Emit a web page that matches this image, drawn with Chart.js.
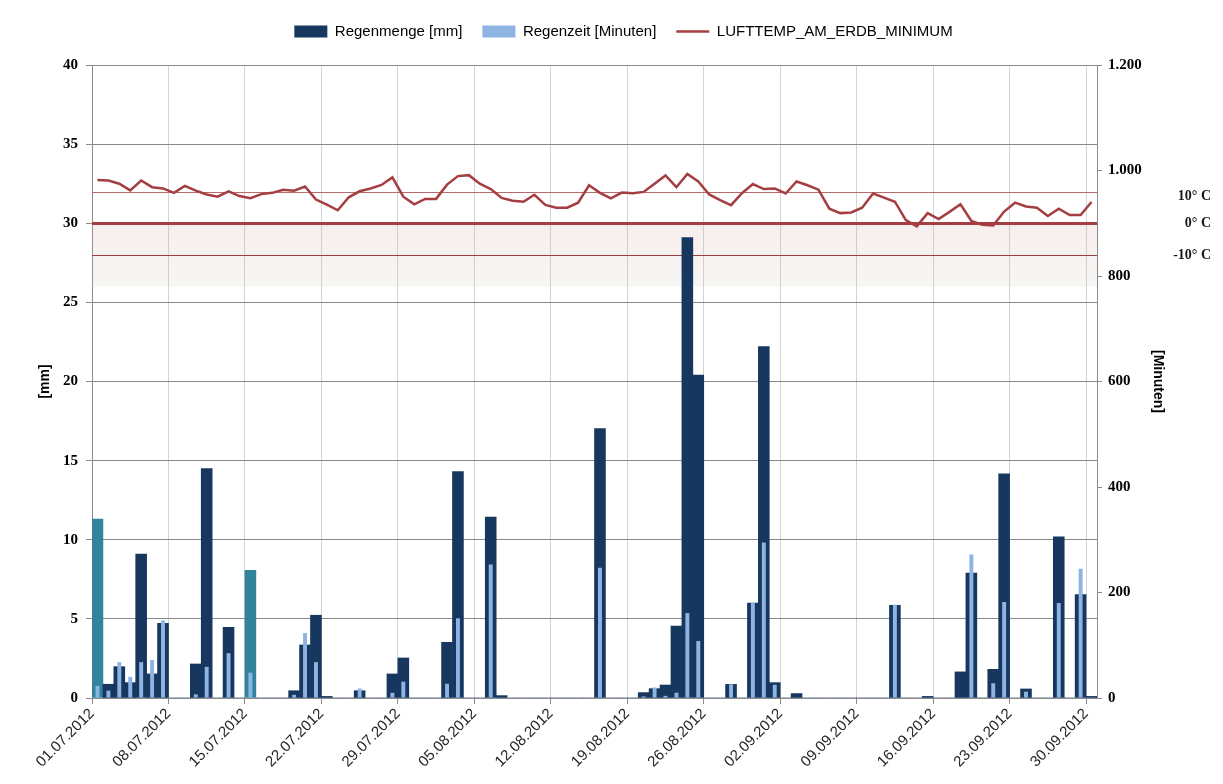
<!DOCTYPE html>
<html>
<head>
<meta charset="utf-8">
<title>Regen und Lufttemperatur Juli - September 2012</title>
<script src="https://cdn.jsdelivr.net/npm/chart.js@4.4.0/dist/chart.umd.min.js"></script>
<style>
  html, body { margin: 0; padding: 0; background: #fff; }
  #wrap { width: 1223px; height: 784px; }
</style>
</head>
<body>
<div id="wrap"><canvas id="chart" width="1223" height="784"></canvas></div>
<script>
// ===========================
// Daten
// ===========================
const days = [
  "01.07.2012", "02.07.2012", "03.07.2012", "04.07.2012", "05.07.2012", "06.07.2012", "07.07.2012",
  "08.07.2012", "09.07.2012", "10.07.2012", "11.07.2012", "12.07.2012", "13.07.2012", "14.07.2012",
  "15.07.2012", "16.07.2012", "17.07.2012", "18.07.2012", "19.07.2012", "20.07.2012", "21.07.2012",
  "22.07.2012", "23.07.2012", "24.07.2012", "25.07.2012", "26.07.2012", "27.07.2012", "28.07.2012",
  "29.07.2012", "30.07.2012", "31.07.2012", "01.08.2012", "02.08.2012", "03.08.2012", "04.08.2012",
  "05.08.2012", "06.08.2012", "07.08.2012", "08.08.2012", "09.08.2012", "10.08.2012", "11.08.2012",
  "12.08.2012", "13.08.2012", "14.08.2012", "15.08.2012", "16.08.2012", "17.08.2012", "18.08.2012",
  "19.08.2012", "20.08.2012", "21.08.2012", "22.08.2012", "23.08.2012", "24.08.2012", "25.08.2012",
  "26.08.2012", "27.08.2012", "28.08.2012", "29.08.2012", "30.08.2012", "31.08.2012", "01.09.2012",
  "02.09.2012", "03.09.2012", "04.09.2012", "05.09.2012", "06.09.2012", "07.09.2012", "08.09.2012",
  "09.09.2012", "10.09.2012", "11.09.2012", "12.09.2012", "13.09.2012", "14.09.2012", "15.09.2012",
  "16.09.2012", "17.09.2012", "18.09.2012", "19.09.2012", "20.09.2012", "21.09.2012", "22.09.2012",
  "23.09.2012", "24.09.2012", "25.09.2012", "26.09.2012", "27.09.2012", "28.09.2012", "29.09.2012",
  "30.09.2012"
];

// beschriftete Tage auf der x-Achse
const tickDates = [
  "01.07.2012", "08.07.2012", "15.07.2012", "22.07.2012", "29.07.2012", "05.08.2012", "12.08.2012",
  "19.08.2012", "26.08.2012", "02.09.2012", "09.09.2012", "16.09.2012", "23.09.2012", "30.09.2012"
];

// Regenmenge [mm]
const regenmenge = [
  11.3, 0.87, 1.98, 0.97, 9.1, 1.52, 4.72,
  0, 0, 2.15, 14.5, 0, 4.47, 0,
  8.06, 0, 0, 0, 0.46, 3.35, 5.23,
  0.1, 0, 0, 0.46, 0, 0, 1.52,
  2.53, 0, 0, 0, 3.52, 14.3, 0,
  0, 11.43, 0.15, 0, 0, 0, 0,
  0, 0, 0, 0, 17.03, 0, 0,
  0, 0.34, 0.59, 0.82, 4.54, 29.1, 20.4,
  0, 0, 0.86, 0, 6.0, 22.2, 0.97,
  0, 0.28, 0, 0, 0, 0, 0,
  0, 0, 0, 5.86, 0, 0, 0.1,
  0, 0, 1.65, 7.89, 0, 1.81, 14.16,
  0, 0.57, 0, 0, 10.19, 0, 6.54,
  0.1
];

// Regenzeit [Minuten]
const regenzeit = [
  23, 14, 68, 40, 68, 72, 147,
  0, 0, 7, 59, 0, 85, 0,
  48, 0, 0, 0, 6, 123, 68,
  0, 0, 0, 18, 0, 0, 10,
  31, 0, 0, 0, 27, 151, 0,
  0, 253, 0, 0, 0, 0, 0,
  0, 0, 0, 0, 247, 0, 0,
  0, 3, 20, 4, 10, 161, 108,
  0, 0, 26, 0, 180, 295, 25,
  0, 0, 0, 0, 0, 0, 0,
  0, 0, 0, 177, 0, 0, 0,
  0, 0, 0, 272, 0, 28, 182,
  0, 12, 0, 0, 180, 0, 245,
  0
];

// LUFTTEMP_AM_ERDB_MINIMUM [°C]
const lufttemp = [
  13.7, 13.5, 12.5, 10.4, 13.5, 11.4, 11.0,
  9.6, 11.8, 10.3, 9.1, 8.4, 10.1, 8.6,
  7.9, 9.2, 9.6, 10.6, 10.3, 11.6, 7.5,
  5.9, 4.1, 8.2, 10.1, 11.0, 12.1, 14.5,
  8.4, 6.0, 7.7, 7.7, 12.2, 14.9, 15.2,
  12.5, 10.8, 8.0, 7.1, 6.8, 9.0, 5.8,
  4.9, 4.9, 6.5, 12.0, 9.6, 7.9, 9.7,
  9.5, 9.9, 12.5, 15.1, 11.4, 15.6, 13.2,
  9.1, 7.3, 5.7, 9.5, 12.4, 10.8, 11.0,
  9.4, 13.2, 12.0, 10.6, 4.6, 3.2, 3.4,
  4.9, 9.4, 8.1, 6.8, 1.0, -1.0, 3.2,
  1.3, 3.6, 6.0, 0.7, -0.5, -0.7, 3.7,
  6.5, 5.3, 4.9, 2.3, 4.6, 2.6, 2.6,
  6.7
];

// Tage mit abweichend eingefärbtem Balken
const markedDays = ["01.07.2012", "15.07.2012"];

// Temperatur-Referenzlinien und Frostband [°C]
const tempLines = [10, 0, -10];
const tempLabels = ["10° C", "0° C", "-10° C"];
const frostBand = [0, -20];

// ===========================
// Farben / Schriften
// ===========================
const NAVY = "#17375e";
const LIGHT = "#8db4e2";
const TEAL = "#31849b";
const RED = "#a43e40";
const GRID = "#8a8a8a";
const SANS = "'Liberation Sans', Arial, sans-serif";
const SERIF = "'Liberation Serif', 'Times New Roman', serif";

function formatDe(v) {
  if (v >= 1000) return Math.floor(v / 1000) + "." + String(v % 1000).padStart(3, "0");
  return String(v);
}

// Legende: etwas mehr Abstand nach unten und leicht nach rechts versetzt
const legendTweak = {
  id: "legendTweak",
  afterInit(chart) {
    const lg = chart.legend;
    if (!lg) return;
    const fit = lg.fit.bind(lg);
    lg.fit = function () { fit(); this.height += 16; };
  },
  afterLayout(chart) {
    const lg = chart.legend;
    if (!lg) return;
    lg.left += 26;
    lg.right += 26;
  }
};

// Frostband + Linien bei 10 / 0 / -10 °C
const tempGuides = {
  id: "tempGuides",
  beforeDatasetsDraw(chart) {
    const { ctx, chartArea: a, scales } = chart;
    const yT = scales.yT;
    const top = yT.getPixelForValue(frostBand[0]);
    const bot = yT.getPixelForValue(frostBand[1]);
    ctx.save();
    const g = ctx.createLinearGradient(0, top, 0, bot);
    g.addColorStop(0, "rgba(214, 160, 160, 0.18)");
    g.addColorStop(1, "rgba(200, 196, 180, 0.16)");
    ctx.fillStyle = g;
    ctx.fillRect(a.left, top, a.right - a.left, bot - top);

    tempLines.forEach(t => {
      const y = Math.round(yT.getPixelForValue(t)) + 0.5;
      ctx.beginPath();
      ctx.moveTo(a.left, y);
      ctx.lineTo(a.right, y);
      ctx.strokeStyle = t === 0 ? RED : (t > 0 ? "#b66c6c" : "#9c3d3f");
      ctx.lineWidth = t === 0 ? 3 : 1.2;
      ctx.stroke();
    });
    ctx.restore();
  },
  afterDraw(chart) {
    const { ctx, scales } = chart;
    const yT = scales.yT;
    ctx.save();
    ctx.font = "bold 14px " + SERIF;
    ctx.fillStyle = "#1a1a1a";
    ctx.textAlign = "right";
    ctx.textBaseline = "middle";
    tempLines.forEach((t, i) => {
      ctx.fillText(tempLabels[i], 1211, yT.getPixelForValue(t) + (t > 0 ? 5 : 0));
    });
    ctx.restore();
  }
};

// ===========================
// Chart
// ===========================
const ctx = document.getElementById("chart").getContext("2d");
new Chart(ctx, {
  data: {
    labels: days,
    datasets: [
      {
        type: "line",
        label: "LUFTTEMP_AM_ERDB_MINIMUM",
        data: lufttemp,
        yAxisID: "yT",
        borderColor: RED,
        backgroundColor: RED,
        borderWidth: 2.5,
        pointRadius: 0,
        tension: 0,
        order: 0
      },
      {
        type: "bar",
        label: "Regenzeit [Minuten]",
        data: regenzeit,
        yAxisID: "y2",
        backgroundColor: LIGHT,
        grouped: false,
        barPercentage: 0.36,
        categoryPercentage: 1,
        order: 1
      },
      {
        type: "bar",
        label: "Regenmenge [mm]",
        data: regenmenge,
        yAxisID: "y",
        backgroundColor: days.map(d => markedDays.includes(d) ? TEAL : NAVY),
        grouped: false,
        barPercentage: 1,
        categoryPercentage: 1,
        order: 2
      }
    ]
  },
  options: {
    responsive: false,
    devicePixelRatio: 1,
    animation: false,
    layout: { padding: { left: 28, right: 56, top: 4, bottom: 0 } },
    plugins: {
      tooltip: { enabled: false },
      legend: {
        position: "top",
        labels: {
          usePointStyle: true,
          pointStyleWidth: 33,
          boxHeight: 12,
          padding: 20,
          color: "#1a1a1a",
          font: { family: SANS, size: 15 },
          generateLabels: chart => {
            const ds = chart.data.datasets;
            return [
              { text: ds[2].label, fillStyle: NAVY, strokeStyle: NAVY, lineWidth: 0, pointStyle: "rect", datasetIndex: 2, hidden: false },
              { text: ds[1].label, fillStyle: LIGHT, strokeStyle: LIGHT, lineWidth: 0, pointStyle: "rect", datasetIndex: 1, hidden: false },
              { text: ds[0].label, fillStyle: RED, strokeStyle: RED, lineWidth: 2.5, pointStyle: "line", datasetIndex: 0, hidden: false }
            ];
          }
        }
      }
    },
    scales: {
      x: {
        type: "category",
        offset: true,
        grid: {
          offset: true,
          color: c => (c.index % 7 === 0 ? "#d4d4d4" : "rgba(0,0,0,0)"),
          tickColor: c => (c.index % 7 === 0 ? GRID : "rgba(0,0,0,0)"),
          tickLength: 6
        },
        border: { color: GRID },
        ticks: {
          autoSkip: false,
          minRotation: 45,
          maxRotation: 45,
          labelOffset: -5.46,
          padding: 1,
          color: "#262626",
          font: { family: SANS, size: 15 },
          callback: (v, i) => (tickDates.includes(days[i]) ? days[i] : "")
        },
        afterFit: s => { s.height = 86; }
      },
      y: {
        position: "left",
        min: 0,
        max: 40,
        ticks: {
          stepSize: 5,
          padding: 8,
          color: "#000",
          font: { family: SERIF, size: 15, weight: "bold" }
        },
        grid: { color: GRID, tickColor: GRID, tickLength: 6 },
        border: { color: GRID },
        title: {
          display: true,
          text: "[mm]",
          color: "#000",
          padding: { top: 9, bottom: 0 },
          font: { family: SANS, size: 14, weight: "bold" }
        },
        afterFit: s => { s.width = 64; }
      },
      y2: {
        position: "right",
        min: 0,
        max: 1200,
        ticks: {
          stepSize: 200,
          padding: 6,
          color: "#000",
          font: { family: SERIF, size: 15, weight: "bold" },
          callback: v => formatDe(v)
        },
        grid: { drawOnChartArea: false, color: GRID, tickColor: GRID, tickLength: 5 },
        border: { color: GRID },
        title: {
          display: true,
          text: "[Minuten]",
          color: "#000",
          padding: { top: 1, bottom: 0 },
          font: { family: SANS, size: 14, weight: "bold" }
        },
        afterFit: s => { s.width = 70; }
      },
      yT: { display: false, min: -150, max: 50 }
    }
  },
  plugins: [legendTweak, tempGuides]
});
</script>
</body>
</html>
